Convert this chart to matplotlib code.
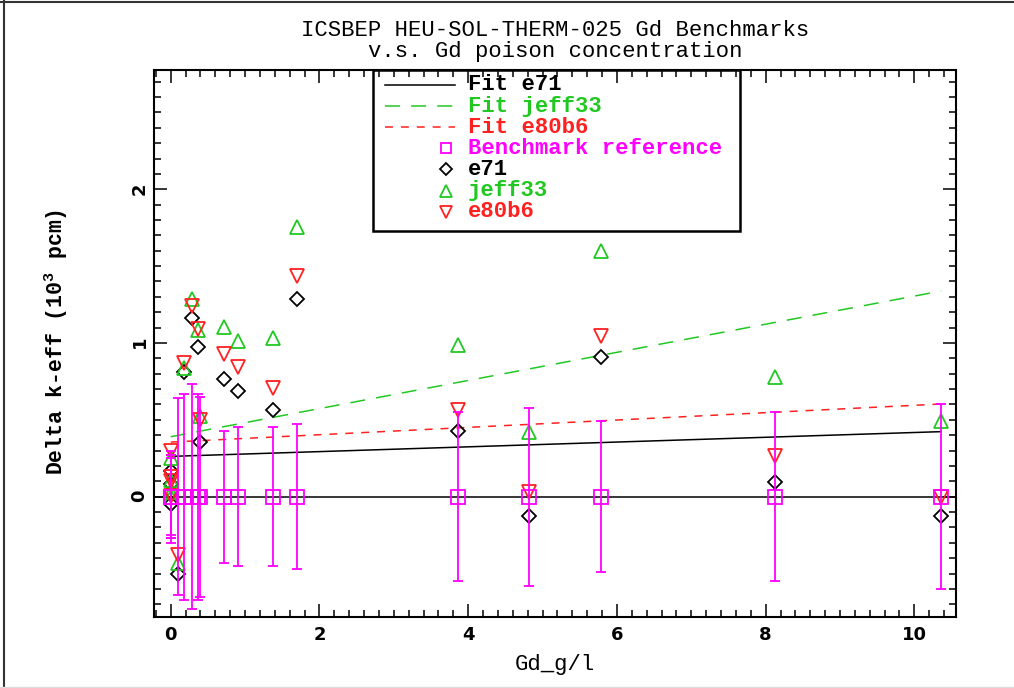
import numpy as np
import matplotlib.pyplot as plt
from matplotlib.lines import Line2D
from matplotlib.patches import Rectangle
from matplotlib.ticker import MultipleLocator

# Gd concentration of each benchmark case (g/l)
gd_conc = [0.0, 0.0, 0.0, 0.0, 0.10, 0.18, 0.28, 0.37, 0.40,
           0.72, 0.91, 1.37, 1.70, 3.86, 4.82, 5.79, 8.13, 10.36]
# benchmark reference (C/E - 1 = 0) and its uncertainty, 10^3 pcm
bench_ref = [0.0] * len(gd_conc)
bench_unc = [0.25, 0.27, 0.30, 0.27, 0.64, 0.67, 0.73, 0.67, 0.65,
             0.43, 0.45, 0.45, 0.47, 0.55, 0.58, 0.49, 0.55, 0.60]

# calculated - benchmark, 10^3 pcm
dk_e71 = [0.17, 0.08, 0.03, -0.05, -0.505, 0.813, 1.16, 0.976, 0.354,
          0.764, 0.69, 0.564, 1.286, 0.427, -0.124, 0.911, 0.098, -0.124]
dk_jeff33 = [0.25, 0.11, 0.03, 0.0, -0.43, 0.84, 1.286, 1.085, 0.525,
             1.106, 1.015, 1.03, 1.757, 0.987, 0.423, 1.60, 0.781, 0.494]
dk_e80b6 = [0.30, 0.13, 0.10, 0.005, -0.38, 0.872, 1.243, 1.089, 0.50,
            0.928, 0.846, 0.705, 1.436, 0.564, 0.033, 1.046, 0.267, 0.0]

# linear fits (end points)
fit_x = [0.0, 10.36]
fit_e71 = [0.262, 0.423]
fit_jeff33 = [0.39, 1.338]
fit_e80b6 = [0.355, 0.603]

GREEN = '#22c822'
RED = '#ff2020'
MAGENTA = '#ff00ff'
MONO = 'Liberation Mono'

plt.rcParams['mathtext.default'] = 'regular'

fig = plt.figure(figsize=(10.14, 6.88), dpi=100)
ax = fig.add_axes([154 / 1014, 1 - 617 / 688, 802 / 1014, 547 / 688])

# fits
ax.plot(fit_x, fit_e71, color='black', lw=1.1, zorder=2)
ax.plot(fit_x, fit_jeff33, color=GREEN, lw=1.1, dashes=(9.8, 7.3), zorder=2)
ax.plot(fit_x, fit_e80b6, color=RED, lw=1.1, dashes=(5.2, 5.2), zorder=2)
ax.axhline(0, color='black', lw=1.1, zorder=2)

# library results
mk = dict(ls='none', mfc='none', mew=1.3, zorder=3)
ax.plot(gd_conc, dk_e71, marker='D', ms=7.6, mec='black', **mk)
ax.plot(gd_conc, dk_jeff33, marker='^', ms=10.5, mec=GREEN, **mk)
ax.plot(gd_conc, dk_e80b6, marker='v', ms=10.5, mec=RED, **mk)

# benchmark reference with uncertainty
ax.errorbar(gd_conc, bench_ref, yerr=bench_unc, fmt='s', ms=9.5, mfc='none',
            mec=MAGENTA, mew=1.3, ecolor=MAGENTA, elinewidth=1.3,
            capsize=3.5, capthick=1.3, zorder=4)

ax.set_xlim(-0.225, 10.56)
ax.set_ylim(-0.783, 2.776)
ax.xaxis.set_major_locator(MultipleLocator(2))
ax.xaxis.set_minor_locator(MultipleLocator(0.2))
ax.yaxis.set_major_locator(MultipleLocator(1))
ax.yaxis.set_minor_locator(MultipleLocator(0.1))
ax.tick_params(which='both', direction='in', top=True, right=True, width=1.1)
ax.tick_params(which='major', length=9.4)
ax.tick_params(which='minor', length=5)
ax.tick_params(axis='x', pad=6.5)
ax.tick_params(axis='y', pad=4, labelrotation=90)
for lab in ax.get_xticklabels() + ax.get_yticklabels():
    lab.set_fontsize(13)
    lab.set_fontweight('bold')
for sp in ax.spines.values():
    sp.set_linewidth(1.5)

ax.set_xlabel('Gd_g/l', fontsize=16, family=MONO)
ax.xaxis.set_label_coords(0.5, -0.068)
ax.set_ylabel('Delta k-eff (10$^{3}$ pcm)', fontsize=15.5, family=MONO,
              fontweight='bold')
ax.yaxis.set_label_coords(-0.105, 0.503)

fig.text(555 / 1014, 1 - 30 / 688, 'ICSBEP HEU-SOL-THERM-025 Gd Benchmarks',
         ha='center', va='center', fontsize=16, family=MONO)
fig.text(555 / 1014, 1 - 52 / 688, 'v.s. Gd poison concentration',
         ha='center', va='center', fontsize=16, family=MONO)

# legend box hanging from the top of the frame
ax.add_patch(Rectangle((0.273, 0.7057), 0.4577, 0.2943, transform=ax.transAxes,
                       fill=False, ec='black', lw=1.8, zorder=5, clip_on=False))
legend_rows = [
    ('Fit e71', 'black', dict(ls='-')),
    ('Fit jeff33', GREEN, dict(dashes=(9.8, 7.3))),
    ('Fit e80b6', RED, dict(dashes=(5.2, 5.2))),
    ('Benchmark reference', MAGENTA, dict(marker='s', ms=7.5)),
    ('e71', 'black', dict(marker='D', ms=5.8)),
    ('jeff33', GREEN, dict(marker='^', ms=8)),
    ('e80b6', RED, dict(marker='v', ms=8)),
]
row_y = 0.9726
for label, color, style in legend_rows:
    if 'marker' in style:
        ax.add_line(Line2D([0.364], [row_y], transform=ax.transAxes, color=color,
                           ls='none', mfc='none', mew=1.3, zorder=6, **style))
    else:
        ax.add_line(Line2D([0.288, 0.3753], [row_y, row_y], transform=ax.transAxes,
                           color=color, lw=1.1, zorder=6, **style))
    ax.text(0.3915, row_y, label, transform=ax.transAxes, color=color,
            fontsize=16, family=MONO, fontweight='bold', va='center', zorder=6)
    row_y -= 0.0386

# page border of the original figure
fig.add_artist(Line2D([4 / 1014, 4 / 1014], [0, 1], transform=fig.transFigure,
                      color='#333333', lw=1.5))
fig.add_artist(Line2D([0, 1], [1 - 2 / 688, 1 - 2 / 688], transform=fig.transFigure,
                      color='#333333', lw=1.5))
fig.add_artist(Line2D([0, 1], [1 / 688, 1 / 688], transform=fig.transFigure,
                      color='#dddddd', lw=1))

fig.savefig('out.png', dpi=100)
